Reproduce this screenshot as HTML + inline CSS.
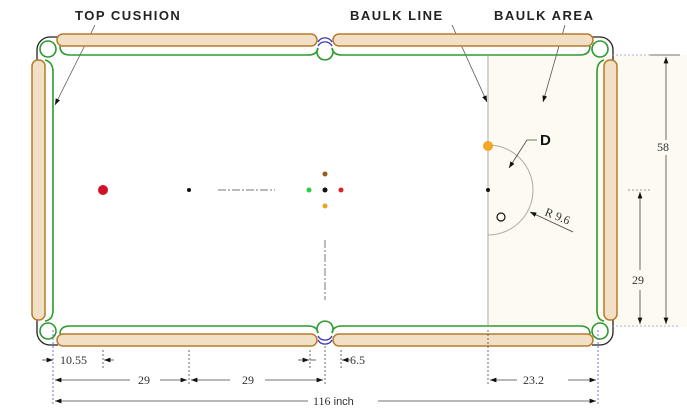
<!DOCTYPE html>
<html><head><meta charset="utf-8"><style>
html,body{margin:0;padding:0;background:#fff;}
svg{display:block;}
.lbl{font-family:"Liberation Sans",sans-serif;font-weight:bold;font-size:13px;letter-spacing:1.5px;fill:#222;}
.dim{font-family:"Liberation Serif",serif;font-size:12px;fill:#333;}
</style></head><body>
<svg width="687" height="417" viewBox="0 0 687 417" xmlns="http://www.w3.org/2000/svg">
<defs>
<marker id="ar" markerWidth="8" markerHeight="6" refX="8" refY="3" orient="auto"><path d="M0,0 L8,3 L0,6z" fill="#111"/></marker>
</defs>
<!-- baulk area tint -->
<rect x="488" y="55" width="199" height="272" fill="#fdfaf2"/>
<!-- labels -->
<text x="75" y="20" class="lbl">TOP CUSHION</text>
<text x="350" y="20" class="lbl">BAULK LINE</text>
<text x="494" y="20" class="lbl">BAULK AREA</text>
<line x1="95" y1="25" x2="55" y2="105" stroke="#555" stroke-width="0.8" marker-end="url(#ar)"/>
<line x1="452" y1="25" x2="487" y2="102" stroke="#555" stroke-width="0.8" marker-end="url(#ar)"/>
<line x1="565" y1="25" x2="543" y2="102" stroke="#555" stroke-width="0.8" marker-end="url(#ar)"/>
<!-- pockets -->
<g fill="none" stroke="#222" stroke-width="1.3">
<path d="M58,37 L50,37 A13,13 0 0 0 37,50 L37,62"/>
<path d="M592,37 L600,37 A13,13 0 0 1 613,50 L613,62"/>
<path d="M58,345 L50,345 A13,13 0 0 1 37,332 L37,320"/>
<path d="M592,345 L600,345 A13,13 0 0 0 613,332 L613,320"/>
</g>
<g fill="none" stroke="#3a3ab0" stroke-width="1.3">
<path d="M318,42 A8,8 0 0 1 332,42"/><path d="M318,46 A8,8 0 0 1 332,46"/>
<path d="M318,340 A8,8 0 0 0 332,340"/><path d="M318,336 A8,8 0 0 0 332,336"/>
</g>
<!-- green playing line -->
<g fill="none" stroke="#2e9a2e" stroke-width="1.6">
<circle cx="48" cy="49" r="8" fill="#fff"/><circle cx="600" cy="49" r="8" fill="#fff"/>
<circle cx="48" cy="331" r="8" fill="#fff"/><circle cx="600" cy="331" r="8" fill="#fff"/>
<path d="M60,46 Q60,55 70,55 L308,55 Q317,55 318,48 A8,8 0 1 0 332,48 Q333,55 342,55 L580,55 Q590,55 590,46"/>
<path d="M60,334 Q60,326 70,326 L308,326 Q317,326 318,333 A8,8 0 1 1 332,333 Q333,326 342,326 L580,326 Q590,326 590,334"/>
<path d="M45,60 Q53,62 53,72 L53,310 Q53,320 45,321"/>
<path d="M604,60 Q597,62 597,72 L597,310 Q597,320 604,321"/>
</g>
<!-- cushions -->
<g fill="#f2e0c6" stroke="#b77a2a" stroke-width="1.5">
<rect x="57" y="34" width="260" height="12" rx="6"/>
<rect x="333" y="34" width="260" height="12" rx="6"/>
<rect x="57" y="334" width="260" height="12" rx="6"/>
<rect x="333" y="334" width="260" height="12" rx="6"/>
<rect x="32" y="60" width="13" height="260" rx="6"/>
<rect x="604" y="60" width="13" height="260" rx="6"/>
</g>
<!-- baulk line and D -->
<line x1="488" y1="55" x2="488" y2="326" stroke="#aaa" stroke-width="1"/>
<path d="M488,145 A45,45 0 0 1 488,235" fill="none" stroke="#aaa" stroke-width="1"/>
<circle cx="488" cy="146" r="5" fill="#f5a623"/>
<circle cx="488" cy="190" r="2" fill="#111"/>
<circle cx="501" cy="217" r="4" fill="none" stroke="#111" stroke-width="1.2"/>
<text x="540" y="145" font-family="Liberation Sans,sans-serif" font-weight="bold" font-size="15" fill="#111">D</text>
<polyline points="537,140 527,140 509,168" fill="none" stroke="#444" stroke-width="0.8" marker-end="url(#ar)"/>
<line x1="573" y1="232" x2="530" y2="212" stroke="#444" stroke-width="0.8" marker-end="url(#ar)"/>
<text x="544" y="215" class="dim" transform="rotate(22 544 215)">R 9.6</text>
<!-- spots -->
<circle cx="103" cy="190" r="5" fill="#d0112b"/>
<circle cx="189" cy="190" r="2" fill="#111"/>
<line x1="218" y1="190" x2="275" y2="190" stroke="#777" stroke-width="1" stroke-dasharray="8,2,2,2"/>
<circle cx="309" cy="190" r="2.5" fill="#2ecc40"/>
<circle cx="325" cy="190" r="2.5" fill="#111"/>
<circle cx="341" cy="190" r="2.5" fill="#e0202a"/>
<circle cx="325" cy="174" r="2.5" fill="#9a5a1a"/>
<circle cx="325" cy="206" r="2.5" fill="#f0a020"/>
<line x1="325" y1="240" x2="325" y2="300" stroke="#777" stroke-width="1" stroke-dasharray="8,2,2,2"/>
<!-- right dimensions -->
<g stroke="#444" stroke-width="0.8">
<line x1="612" y1="55" x2="650" y2="55" stroke="#99c" stroke-dasharray="2,2"/>
<line x1="650" y1="55" x2="680" y2="55"/>
<line x1="612" y1="326" x2="680" y2="326" stroke="#99c" stroke-dasharray="2,2"/>
<line x1="666" y1="140" x2="666" y2="57" marker-end="url(#ar)"/>
<line x1="666" y1="155" x2="666" y2="324" marker-end="url(#ar)"/>
<line x1="628" y1="190" x2="650" y2="190" stroke="#777" stroke-dasharray="2,2"/>
<line x1="640" y1="270" x2="640" y2="192" marker-end="url(#ar)"/>
<line x1="640" y1="290" x2="640" y2="324" marker-end="url(#ar)"/>
</g>
<text x="657" y="151" class="dim">58</text>
<text x="632" y="284" class="dim">29</text>
<!-- bottom dimensions -->
<g stroke="#444" stroke-width="0.8">
<line x1="53" y1="330" x2="53" y2="405" stroke="#55c" stroke-dasharray="2,2"/>
<line x1="598" y1="330" x2="598" y2="405" stroke="#55c" stroke-dasharray="2,2"/>
<line x1="103" y1="350" x2="103" y2="368" stroke-dasharray="2,2"/>
<line x1="189" y1="350" x2="189" y2="385" stroke-dasharray="2,2"/>
<line x1="310" y1="350" x2="310" y2="368" stroke-dasharray="2,2"/>
<line x1="341" y1="350" x2="341" y2="368" stroke-dasharray="2,2"/>
<line x1="325" y1="346" x2="325" y2="385" stroke-dasharray="2,2"/>
<line x1="488" y1="330" x2="488" y2="385" stroke-dasharray="2,2"/>
<line x1="42" y1="360" x2="53" y2="360" marker-end="url(#ar)"/>
<line x1="114" y1="360" x2="104" y2="360" marker-end="url(#ar)"/>
<line x1="310" y1="360" x2="316" y2="360"/>
<line x1="298" y1="360" x2="309" y2="360" marker-end="url(#ar)"/>
<line x1="350" y1="360" x2="342" y2="360" marker-end="url(#ar)"/>
<line x1="130" y1="380" x2="55" y2="380" marker-end="url(#ar)"/>
<line x1="160" y1="380" x2="187" y2="380" marker-end="url(#ar)"/>
<line x1="230" y1="380" x2="191" y2="380" marker-end="url(#ar)"/>
<line x1="265" y1="380" x2="323" y2="380" marker-end="url(#ar)"/>
<line x1="517" y1="380" x2="490" y2="380" marker-end="url(#ar)"/>
<line x1="568" y1="380" x2="596" y2="380" marker-end="url(#ar)"/>
<line x1="308" y1="401" x2="55" y2="401" marker-end="url(#ar)"/>
<line x1="378" y1="401" x2="596" y2="401" marker-end="url(#ar)"/>
</g>
<text x="60" y="364" class="dim">10.55</text>
<text x="350" y="364" class="dim">6.5</text>
<text x="138" y="384" class="dim">29</text>
<text x="242" y="384" class="dim">29</text>
<text x="523" y="384" class="dim">23.2</text>
<text x="313" y="405" class="dim">116<tspan font-family="Liberation Sans,sans-serif" font-size="11"> inch</tspan></text>
</svg>
</body></html>
